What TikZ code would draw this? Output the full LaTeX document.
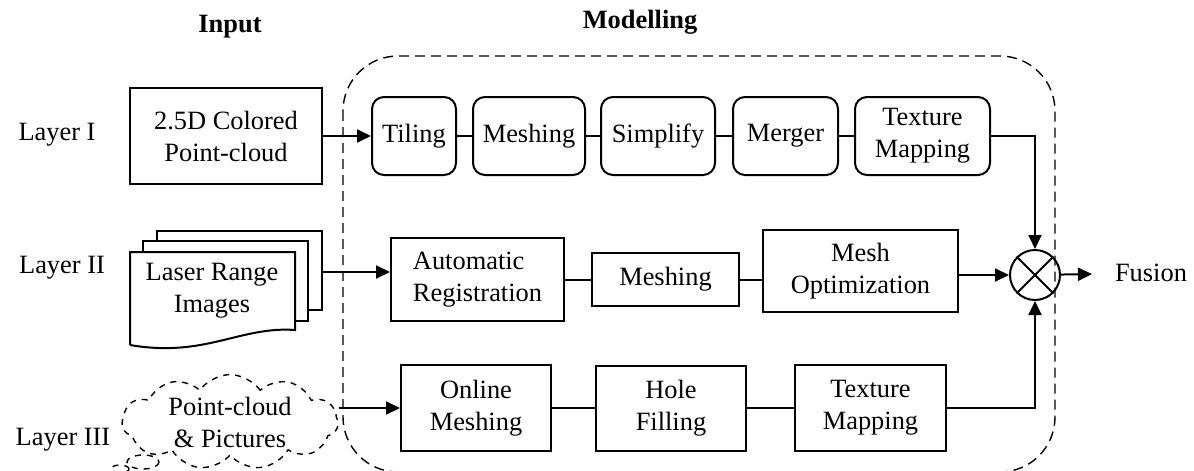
\documentclass[tikz,border=0pt]{standalone}
\usepackage{fontspec}
\setmainfont{Liberation Serif}
\usepackage{tikz}
\usetikzlibrary{arrows.meta,positioning,shapes.geometric,shapes.symbols}

\begin{document}
\begin{tikzpicture}[x=0.5pt,y=-0.5pt,
  every node/.style={font=\fontsize{13.2}{16}\selectfont},
  rbox/.style={draw, line width=1pt, rounded corners=6pt, align=center, minimum height=39pt},
  sbox/.style={draw, line width=1pt, align=center},
  link/.style={line width=1pt},
  arr/.style={link, -{Triangle[length=7pt,width=6.5pt]}}]
\useasboundingbox (0,0) rectangle (1194,471);
% Modelling frame
\draw[dashed, dash pattern=on 5pt off 3pt, line width=0.7pt, rounded corners=27.5pt] (343,56) rectangle (1055,472);
% Headings
\node[font=\fontsize{13.2}{16}\selectfont\bfseries] (hin) at (230,27) {Input};
\node[font=\fontsize{13.2}{16}\selectfont\bfseries] (hmod) at (640,22) {Modelling};
% Layer labels
\node (l1) at (57,135) {Layer I};
\node (l2) at (62,268) {Layer II};
\node (l3) at (63,440) {Layer III};
% Layer I
\node[sbox, minimum width=96pt, minimum height=48pt] (pc) at (226,136) {2.5D Colored\\Point-cloud};
\node[rbox, minimum width=42pt] (tiling) at (414,136) {Tiling};
\node[rbox, minimum width=56pt] (mesha) at (529,136) {Meshing};
\node[rbox, minimum width=57pt] (simp) at (658,136) {Simplify};
\node[rbox, minimum width=52.5pt] (merg) at (785.5,136) {Merger};
\node[rbox, minimum width=67.5pt] (texa) at (922.5,136) {Texture\\Mapping};
\draw[arr] (pc) -- (tiling);
\draw[link] (tiling) -- (mesha) -- (simp) -- (merg) -- (texa);
% Layer II, stacked sheets
\draw[line width=1pt, fill=white] (157,310) -- (157,231) -- (322,231) -- (322,310) -- cycle;
\draw[line width=1pt, fill=white] (143,321) -- (143,241) -- (308,241) -- (308,321) -- cycle;
\draw[line width=1pt, fill=white] (130,345) -- (130,252) -- (295,252) -- (295,330)
  .. controls (240,326) and (205,358) .. (130,345);
\node[align=center] (laser) at (212,291) {Laser Range\\Images};
\coordinate (laserout) at (322,272);
\node[sbox, minimum width=86.5pt, minimum height=41.5pt, align=left] (ar) at (477.5,279.5) {Automatic\\Registration};
\node[sbox, minimum width=73.5pt, minimum height=26.5pt] (meshb) at (665.5,279.5) {Meshing};
\node[sbox, minimum width=97.5pt, minimum height=41pt] (mopt) at (860.5,271) {Mesh\\Optimization};
\draw[arr] (laserout) -- (laserout -| ar.west);
\draw[link] (ar) -- (meshb);
\draw[link] (meshb.east) -- (meshb.east -| mopt.west);
% Layer III
\node[cloud, draw, dashed, line width=0.7pt, cloud puffs=11, cloud puff arc=110, aspect=2.5,
      minimum width=108pt, minimum height=44pt, inner sep=0pt, align=center] (cloud) at (230,422) {Point-cloud\\\& Pictures};
\draw[dashed, line width=0.7pt] (143,462) ellipse (16 and 7);
\draw[dashed, line width=0.7pt] (120,469) ellipse (9 and 4);
\node[sbox, minimum width=75pt, minimum height=43pt] (om) at (476,408) {Online\\Meshing};
\node[sbox, minimum width=75pt, minimum height=42.5pt] (hf) at (671,408) {Hole\\Filling};
\node[sbox, minimum width=75.5pt, minimum height=43pt] (texc) at (870.5,408) {Texture\\Mapping};
\draw[arr] (cloud.east |- om) -- (om);
\draw[link] (om) -- (hf) -- (texc);
% Fusion
\node[draw, circle, line width=1pt, minimum size=25pt, inner sep=0pt] (fuse) at (1035,275) {};
\draw[line width=1pt] (fuse.north east) -- (fuse.south west);
\draw[line width=1pt] (fuse.north west) -- (fuse.south east);
\node (fusion) at (1151,273) {Fusion};
\draw[arr] (texa.east) -| (fuse.north);
\draw[arr] (texc.east) -| (fuse.south);
\draw[arr] (mopt.east |- fuse) -- (fuse.west);
\draw[arr, shorten >=8pt] (fuse) -- (fusion);
\end{tikzpicture}
\end{document}
